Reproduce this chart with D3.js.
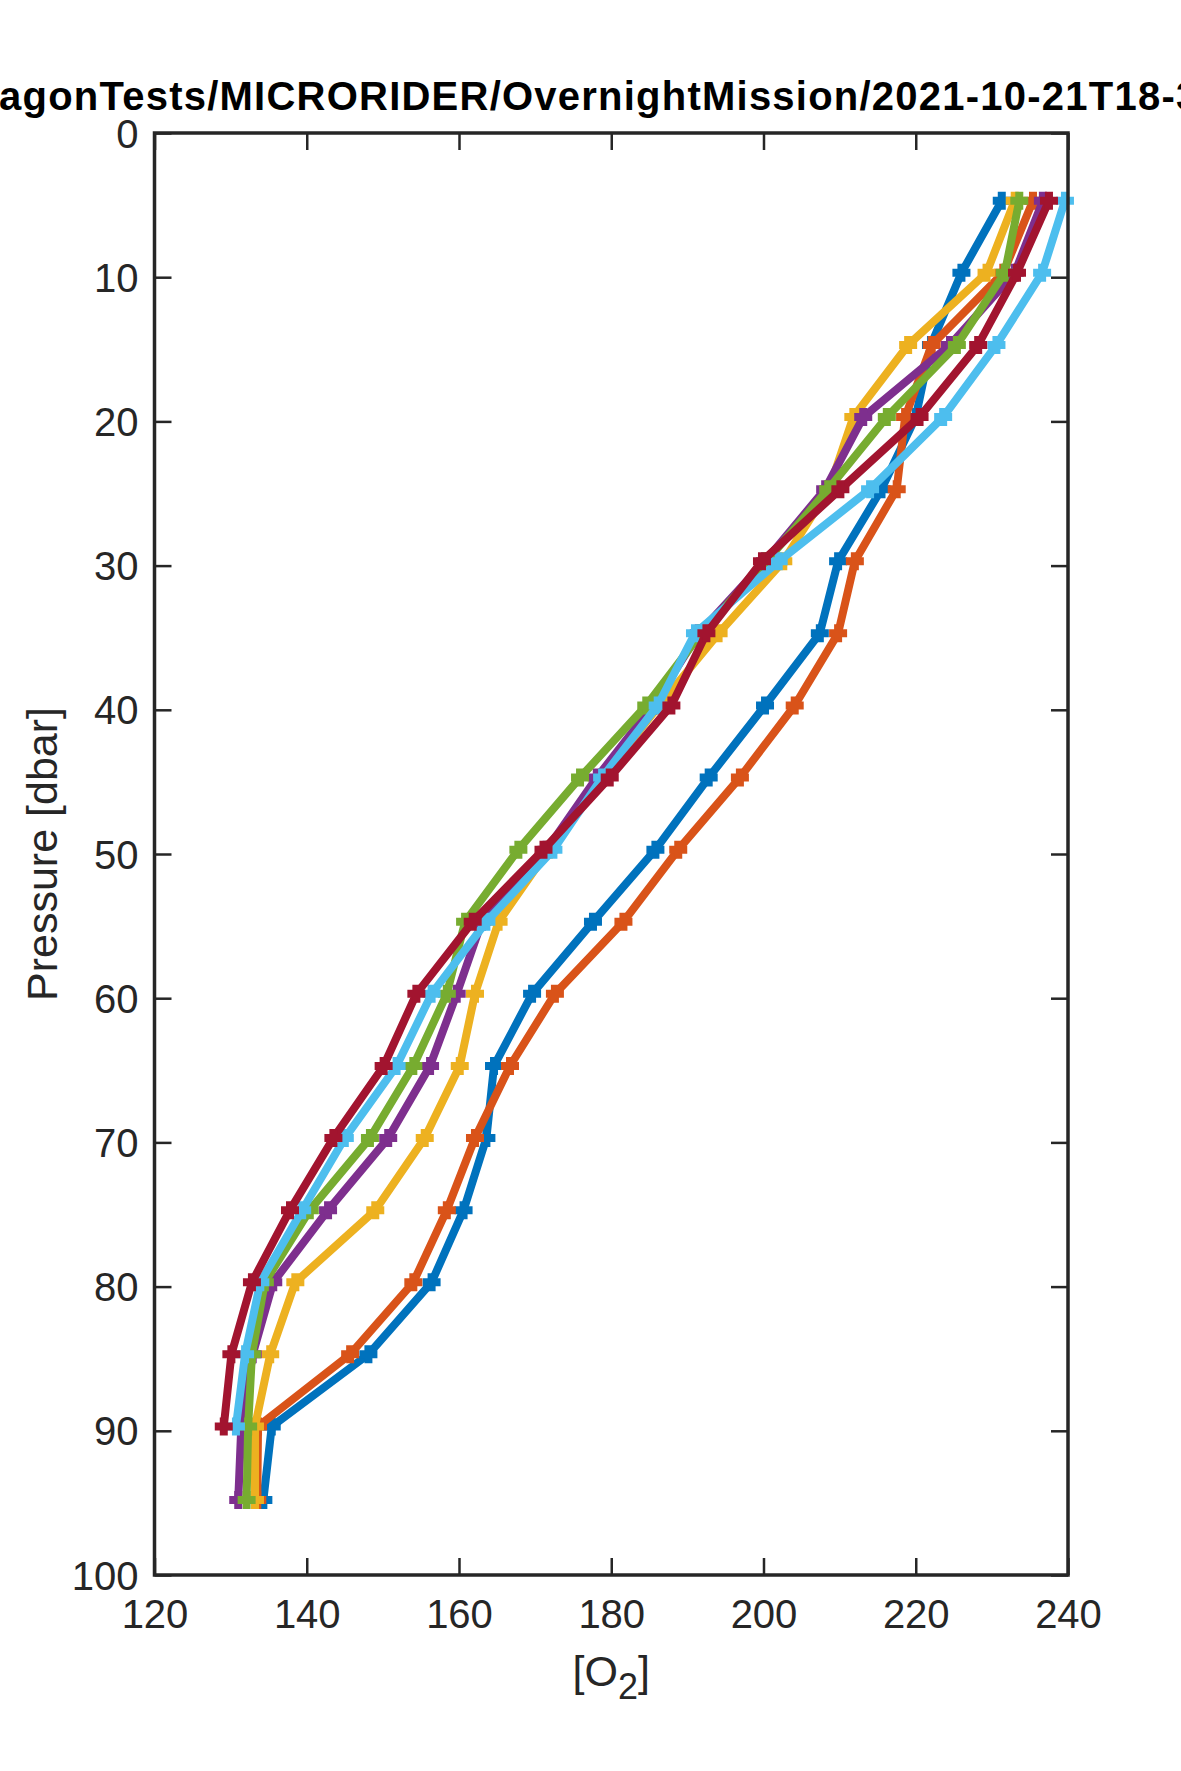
<!DOCTYPE html>
<html>
<head>
<meta charset="utf-8">
<script src="https://cdn.jsdelivr.net/npm/d3@7"></script>
<style>
  body { margin: 0; background: #fff; }
  svg { display: block; font-family: "Liberation Sans", Arial, Helvetica, sans-serif; }
</style>
</head>
<body>
<div id="chart"></div>
<script>
// pressure levels (dbar) of the binned profile
const pressure = [4.7, 9.7, 14.7, 19.7, 24.7, 29.7, 34.7, 39.7, 44.7, 49.7,
                  54.7, 59.7, 64.7, 69.7, 74.7, 79.7, 84.7, 89.7, 94.8];

// [O2] per profile
const profile1 = [231.3, 226.0, 222.0, 220.0, 215.5, 209.8, 207.4, 200.2, 192.8, 185.8,
                  177.6, 169.6, 164.6, 163.6, 160.6, 156.4, 148.1, 135.4, 134.3];
const profile2 = [235.4, 231.5, 222.1, 218.6, 217.5, 212.0, 209.8, 204.1, 196.9, 188.8,
                  181.6, 172.6, 166.7, 162.1, 158.4, 154.0, 145.7, 133.6, 133.5];
const profile3 = [233.0, 229.3, 219.0, 211.8, 208.6, 202.6, 194.1, 186.3, 178.8, 171.8,
                  165.2, 162.1, 160.1, 155.5, 149.0, 138.5, 135.2, 133.2, 133.2];
const profile4 = [236.7, 233.0, 224.5, 213.1, 208.1, 200.2, 191.5, 185.5, 178.1, 171.5,
                  163.0, 159.7, 156.2, 150.7, 142.8, 135.6, 132.9, 131.4, 131.0];
const profile5 = [233.6, 231.7, 225.4, 216.2, 208.5, 200.4, 191.8, 184.6, 175.9, 167.8,
                  160.8, 158.4, 154.0, 148.3, 140.4, 134.5, 132.8, 132.3, 132.1];
const profile6 = [239.6, 236.6, 230.6, 223.6, 214.0, 202.0, 191.0, 186.1, 178.8, 172.4,
                  163.6, 156.4, 151.8, 145.0, 139.4, 133.9, 131.9, 130.7];
const profile7 = [237.5, 233.3, 228.2, 220.5, 210.1, 199.8, 192.5, 187.9, 179.8, 171.1,
                  161.8, 154.4, 150.1, 143.5, 137.8, 132.8, 130.1, 129.1];

const profiles = [profile1, profile2, profile3, profile4, profile5, profile6, profile7];
const colors = ["#0072BD", "#D95319", "#EDB120", "#7E2F8E", "#77AC30", "#4DBEEE", "#A2142F"];

const xTicks = [120, 140, 160, 180, 200, 220, 240];
const yTicks = [0, 10, 20, 30, 40, 50, 60, 70, 80, 90, 100];

const titleText = "ParagonTests/MICRORIDER/OvernightMission/2021-10-21T18-30-00";
const titleCut = "Par";  // part of the title that runs off the left edge
const titleSeen = "agonTests/MICRORIDER/OvernightMission/2021-10-21T18-"; // ends where the "3" starts

const width = 1181, height = 1771;
const margin = { top: 133, right: 113, bottom: 196, left: 154.5 };
const innerW = width - margin.left - margin.right;
const innerH = height - margin.top - margin.bottom;
const axisColor = "#262626";
const tickLen = 17;
const lw = 8;

const svg = d3.select("#chart").append("svg")
    .attr("width", width)
    .attr("height", height);

svg.append("rect")
    .attr("width", width)
    .attr("height", height)
    .attr("fill", "#fff");

const g = svg.append("g")
    .attr("transform", "translate(" + margin.left + "," + margin.top + ")");

const x = d3.scaleLinear().domain([120, 240]).range([0, innerW]);
const y = d3.scaleLinear().domain([0, 100]).range([0, innerH]);

// axes, ticks pointing inward like matlab
const styleAxis = sel => {
  sel.select(".domain").remove();
  sel.selectAll(".tick line").attr("stroke", axisColor).attr("stroke-width", 2.5);
  sel.selectAll(".tick text")
      .attr("fill", axisColor)
      .style("font-size", "40px")
      .style("font-family", "'Liberation Sans', Arial, sans-serif");
};

g.append("g")
    .attr("transform", "translate(0," + innerH + ")")
    .call(d3.axisBottom(x).tickValues(xTicks).tickSizeInner(-tickLen).tickSizeOuter(0).tickPadding(25))
    .call(styleAxis);

g.append("g")
    .call(d3.axisLeft(y).tickValues(yTicks).tickSizeInner(-tickLen).tickSizeOuter(0).tickPadding(16))
    .call(styleAxis)
    .selectAll(".tick text").attr("dy", "0.35em");

g.append("g")
    .call(d3.axisTop(x).tickValues(xTicks).tickSizeInner(-tickLen).tickSizeOuter(0).tickFormat(""))
    .call(styleAxis);

g.append("g")
    .attr("transform", "translate(" + innerW + ",0)")
    .call(d3.axisRight(y).tickValues(yTicks).tickSizeInner(-tickLen).tickSizeOuter(0).tickFormat(""))
    .call(styleAxis);

// profiles
const line = d3.line()
    .x(d => x(d.o2))
    .y(d => y(d.p));

const plot = g.append("g");

profiles.forEach((vals, i) => {
  const pts = vals.map((v, k) => ({ o2: v, p: pressure[k] }));
  const s = plot.append("g").attr("class", "profile");

  s.append("path")
      .datum(pts)
      .attr("d", line)
      .attr("fill", "none")
      .attr("stroke", colors[i])
      .attr("stroke-width", lw)
      .attr("stroke-linejoin", "round");

  // '+' markers
  s.selectAll(".marker")
    .data(pts)
    .enter().append("path")
      .attr("class", "marker")
      .attr("d", d => {
        const cx = x(d.o2), cy = y(d.p), r = 5;
        return "M" + (cx - r) + "," + cy + "H" + (cx + r) + "M" + cx + "," + (cy - r) + "V" + (cy + r);
      })
      .attr("stroke", colors[i])
      .attr("stroke-width", lw)
      .attr("stroke-linecap", "square")
      .attr("fill", "none");
});

// box
g.append("rect")
    .attr("width", innerW)
    .attr("height", innerH)
    .attr("fill", "none")
    .attr("stroke", axisColor)
    .attr("stroke-width", 3.5);

// labels
svg.append("text")
    .attr("transform", "translate(57," + (margin.top + innerH / 2) + ") rotate(-90)")
    .attr("text-anchor", "middle")
    .attr("fill", axisColor)
    .style("font-size", "43px")
    .text("Pressure [dbar]");

const xl = svg.append("text")
    .attr("x", margin.left + innerW / 2)
    .attr("y", 1686)
    .attr("text-anchor", "middle")
    .attr("fill", axisColor)
    .style("font-size", "43px");
xl.append("tspan").text("[O");
xl.append("tspan").attr("dy", 13).style("font-size", "36px").text("2");
xl.append("tspan").attr("dy", -13).text("]");

// title is wider than the figure, it gets clipped on both sides
const title = svg.append("text")
    .attr("y", 110)
    .attr("fill", "#000")
    .style("font-size", "40px")
    .style("font-weight", "bold");
const measure = s => title.text(s).node().getComputedTextLength();
const cutW = measure(titleCut);
const seenW = measure(titleSeen);
const spacing = (1177 - seenW) / titleSeen.length;
title.text(titleText)
    .style("letter-spacing", spacing + "px")
    .attr("x", -cutW - spacing * titleCut.length - 1);
</script>
</body>
</html>
